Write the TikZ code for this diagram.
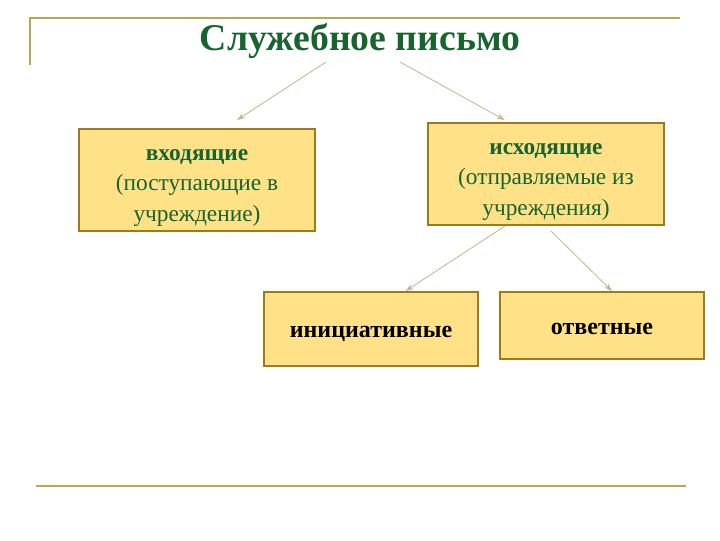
\documentclass[tikz,border=0pt]{standalone}
\usepackage{fontspec}
\setmainfont{Liberation Serif}
\usetikzlibrary{arrows.meta}

\definecolor{titlegreen}{RGB}{24,100,46}
\definecolor{boxfill}{RGB}{255,225,135}
\definecolor{boxedge}{RGB}{156,122,30}
\definecolor{ruleline}{RGB}{180,168,80}
\definecolor{arrowtan}{RGB}{200,178,135}

\tikzset{every picture/.style={line width=0.75pt}}
\tikzset{
  kindbox/.style={draw=boxedge, line width=1.5pt, fill=boxfill, inner sep=0pt},
  kindtext/.style={align=center, inner sep=0pt, text=titlegreen, font=\fontsize{17.5}{23}\selectfont},
  kindbold/.style={inner sep=0pt, font=\fontsize{18}{23}\selectfont\bfseries},
  branch/.style={draw=arrowtan, line width=0.6pt, -{Stealth[length=6pt,width=4pt]}}
}

\begin{document}
\begin{tikzpicture}[x=0.75pt,y=0.75pt,yscale=-1,xscale=1]
	\useasboundingbox (0,0) rectangle (720,540);
	
	%Frame lines
	\draw [ruleline, line width=2pt] (30,65) -- (30,18) -- (680,18) ;
	\draw [ruleline, line width=2pt] (36,486) -- (686,486) ;
	
	% Title
	\node (title) at (360,41) [inner sep=0pt, text=titlegreen, font=\fontsize{28.3}{30}\selectfont\bfseries] {Служебное письмо};
	
	% Boxes
	\node (incoming) [kindbox, minimum width=177pt, minimum height=76.5pt] at (197,180) {};
	\node (incomingtext) [kindtext] at ([yshift=6pt]incoming.center) {\textbf{входящие}\\(поступающие в\\учреждение)};
	\node (outgoing) [kindbox, minimum width=177pt, minimum height=76.5pt] at (546,174) {};
	\node (outgoingtext) [kindtext] at ([yshift=6pt]outgoing.center) {\textbf{исходящие}\\(отправляемые из\\учреждения)};
	\node (initiative) [kindbox, minimum width=160.5pt, minimum height=55.5pt] at (371,329) {};
	\node (initiativetext) [kindbold] at ([yshift=4pt]initiative.center) {инициативные};
	\node (reply) [kindbox, minimum width=153pt, minimum height=50pt] at (602,325.5) {};
	\node (replytext) [kindbold] at ([yshift=2.5pt]reply.center) {ответные};
	
	% Connectors
	\coordinate (titleL) at (326,62);
	\coordinate (titleR) at (400,62);
	\coordinate (outL) at (505,226);
	\coordinate (outR) at (551,231);
	\draw [branch] (titleL) -- ([xshift=30pt,yshift=-6pt]incoming.north) ;
	\draw [branch] (titleR) -- ([xshift=-31pt,yshift=-1.5pt]outgoing.north) ;
	\draw [branch] (outL) -- ([xshift=26pt,yshift=0pt]initiative.north) ;
	\draw [branch] (outR) -- ([xshift=7.5pt,yshift=0pt]reply.north) ;
	
\end{tikzpicture}
\end{document}
